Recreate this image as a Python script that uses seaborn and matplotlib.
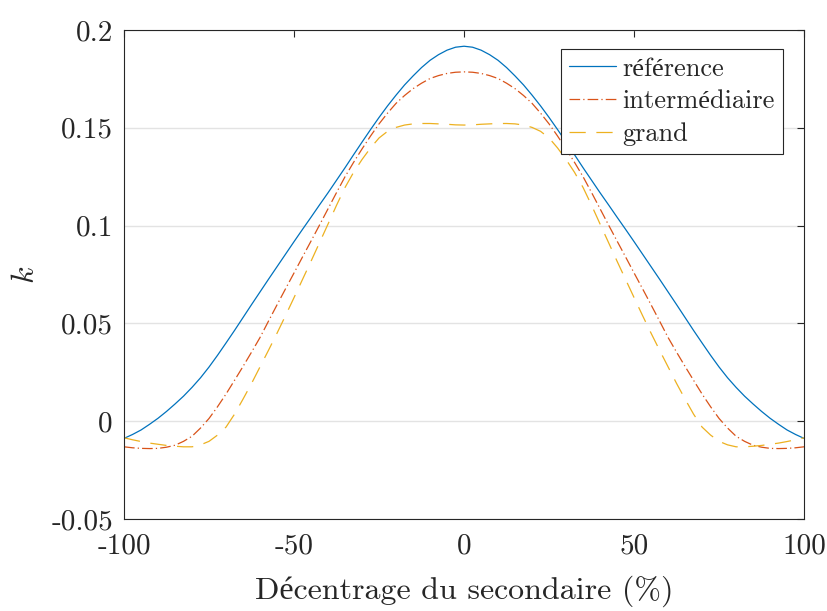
import numpy as np
import pandas as pd
import matplotlib
matplotlib.use("Agg")
import matplotlib.pyplot as plt
import seaborn as sns
from matplotlib.ticker import FuncFormatter

# Data (k vs. décentrage du secondaire, %)
decentrage = [-100, -97.5, -95, -92.5, -90, -87.5, -85, -82.5, -80, -77.5,
              -75, -72.5, -70, -67.5, -65, -62.5, -60, -57.5, -55, -52.5,
              -50, -47.5, -45, -42.5, -40, -37.5, -35, -32.5, -30, -27.5,
              -25, -22.5, -20, -17.5, -15, -12.5, -10, -7.5, -5, -2.5,
              0,
              2.5, 5, 7.5, 10, 12.5, 15, 17.5, 20, 22.5, 25,
              27.5, 30, 32.5, 35, 37.5, 40, 42.5, 45, 47.5, 50,
              52.5, 55, 57.5, 60, 62.5, 65, 67.5, 70, 72.5, 75,
              77.5, 80, 82.5, 85, 87.5, 90, 92.5, 95, 97.5, 100]

k_reference = [-0.0088, -0.0068, -0.0045, -0.0016, 0.0015, 0.0050, 0.0088, 0.0128, 0.0173, 0.0222,
               0.0277, 0.0337, 0.0400, 0.0464, 0.0530, 0.0596, 0.0661, 0.0726, 0.0790, 0.0854,
               0.0918, 0.0981, 0.1043, 0.1106, 0.1168, 0.1232, 0.1296, 0.1362, 0.1427, 0.1491,
               0.1553, 0.1612, 0.1667, 0.1719, 0.1765, 0.1808, 0.1845, 0.1874, 0.1897, 0.1912,
               0.1917,
               0.1912, 0.1897, 0.1874, 0.1845, 0.1808, 0.1765, 0.1719, 0.1667, 0.1612, 0.1553,
               0.1491, 0.1427, 0.1362, 0.1296, 0.1232, 0.1168, 0.1106, 0.1043, 0.0981, 0.0918,
               0.0854, 0.0790, 0.0726, 0.0661, 0.0596, 0.0530, 0.0464, 0.0400, 0.0337, 0.0277,
               0.0222, 0.0173, 0.0128, 0.0088, 0.0050, 0.0015, -0.0016, -0.0045, -0.0068, -0.0088]

k_intermediaire = [-0.0131, -0.0136, -0.0139, -0.0140, -0.0139, -0.0133, -0.0123, -0.0103, -0.0077, -0.0035,
                   0.0014, 0.0074, 0.0139, 0.0209, 0.0280, 0.0353, 0.0428, 0.0512, 0.0595, 0.0677,
                   0.0758, 0.0840, 0.0921, 0.1003, 0.1086, 0.1169, 0.1250, 0.1323, 0.1392, 0.1458,
                   0.1520, 0.1575, 0.1625, 0.1665, 0.1700, 0.1728, 0.1752, 0.1767, 0.1778, 0.1784,
                   0.1786,
                   0.1784, 0.1778, 0.1767, 0.1752, 0.1728, 0.1700, 0.1665, 0.1625, 0.1575, 0.1520,
                   0.1458, 0.1392, 0.1323, 0.1250, 0.1169, 0.1086, 0.1003, 0.0921, 0.0840, 0.0758,
                   0.0677, 0.0595, 0.0512, 0.0428, 0.0353, 0.0280, 0.0209, 0.0139, 0.0074, 0.0014,
                   -0.0035, -0.0077, -0.0103, -0.0123, -0.0133, -0.0139, -0.0140, -0.0139, -0.0136, -0.0131]

k_grand = [-0.0085, -0.0095, -0.0104, -0.0112, -0.0118, -0.0124, -0.0128, -0.0131, -0.0131, -0.0121,
           -0.0103, -0.0071, -0.0030, 0.0036, 0.0113, 0.0193, 0.0278, 0.0363, 0.0450, 0.0540,
           0.0632, 0.0725, 0.0818, 0.0913, 0.1008, 0.1104, 0.1195, 0.1272, 0.1338, 0.1397,
           0.1448, 0.1482, 0.1502, 0.1514, 0.1520, 0.1522, 0.1522, 0.1520, 0.1518, 0.1515,
           0.1514,
           0.1515, 0.1518, 0.1520, 0.1522, 0.1522, 0.1520, 0.1514, 0.1502, 0.1482, 0.1448,
           0.1397, 0.1338, 0.1272, 0.1195, 0.1104, 0.1008, 0.0913, 0.0818, 0.0725, 0.0632,
           0.0540, 0.0450, 0.0363, 0.0278, 0.0193, 0.0113, 0.0036, -0.0030, -0.0071, -0.0103,
           -0.0121, -0.0131, -0.0131, -0.0128, -0.0124, -0.0118, -0.0112, -0.0104, -0.0095, -0.0085]

series_names = ["référence", "intermédiaire", "grand"]
x_ticks = [-100, -50, 0, 50, 100]
y_ticks = [-0.05, 0, 0.05, 0.1, 0.15, 0.2]

# MATLAB-like look (Computer Modern text, Times fallback for accents)
sns.set_style("white")
plt.rcParams["font.family"] = ["cmr10", "Liberation Serif"]
plt.rcParams["mathtext.fontset"] = "cm"
plt.rcParams["axes.unicode_minus"] = False

df = pd.DataFrame({
    "x": decentrage,
    series_names[0]: k_reference,
    series_names[1]: k_intermediaire,
    series_names[2]: k_grand,
})

colors = ["#0072BD", "#D95319", "#EDB120"]
linestyles = ["-", (0, (8.5, 2.5, 1, 2.5)), (0, (13, 8.5))]

fig = plt.figure(figsize=(8.28, 6.11), dpi=100)
ax = fig.add_axes([0.1498, 0.1506, 0.8213, 0.8003])

for name, col, ls in zip(series_names, colors, linestyles):
    sns.lineplot(data=df, x="x", y=name, ax=ax, color=col, linestyle=ls,
                 linewidth=0.9, label=name)

ax.set_xlim(-100, 100)
ax.set_ylim(-0.05, 0.2)
ax.set_xticks(x_ticks)
ax.set_yticks(y_ticks)
ax.xaxis.set_major_formatter(FuncFormatter(lambda v, p: f"{v:g}"))
ax.yaxis.set_major_formatter(FuncFormatter(lambda v, p: f"{v:g}"))

ax.yaxis.grid(True, color="#e3e3e3", linewidth=1.0)
ax.xaxis.grid(False)
ax.set_axisbelow(True)

for sp in ax.spines.values():
    sp.set_color("#262626")
    sp.set_linewidth(0.8)

ax.tick_params(direction="in", top=True, right=True, length=5, width=0.8,
               color="#262626", labelcolor="#262626", labelsize=21)
ax.tick_params(axis="x", pad=10)
ax.tick_params(axis="y", pad=8)

ax.set_xlabel("Décentrage du secondaire (%)", fontsize=23, color="#262626", labelpad=12)
ax.set_ylabel("$k$", fontsize=23, color="#262626", labelpad=8)

leg = ax.legend(loc="upper right", bbox_to_anchor=(0.969, 0.961), fontsize=19,
                frameon=True, fancybox=False, framealpha=1, edgecolor="#262626",
                borderpad=0.3, handlelength=1.8, handletextpad=0.25,
                labelspacing=0.34, borderaxespad=0)
leg.get_frame().set_linewidth(0.8)

fig.savefig("out.png", dpi=100)
